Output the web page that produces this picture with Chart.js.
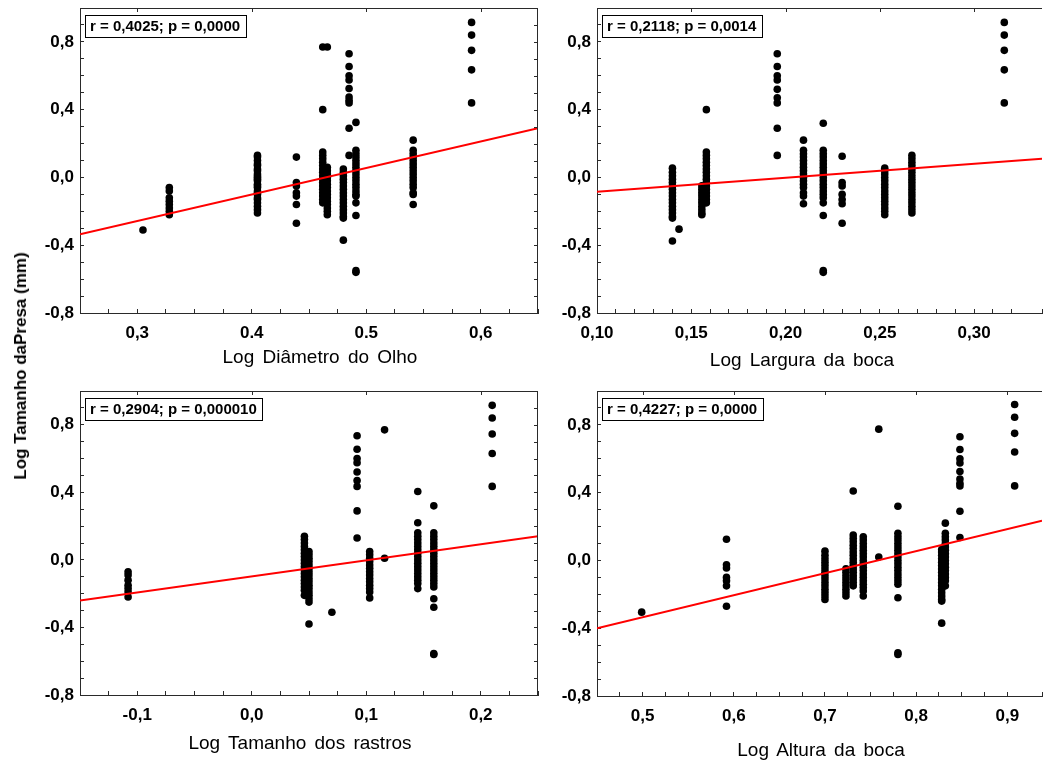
<!DOCTYPE html>
<html>
<head>
<meta charset="utf-8">
<title>Log Tamanho da Presa</title>
<script src="https://cdn.jsdelivr.net/npm/chart.js@4.4.1/dist/chart.umd.min.js"></script>
<style>
  html, body { margin: 0; padding: 0; background: #fff; overflow: hidden; }
  #page { position: relative; width: 1046px; height: 764px; }
  canvas { position: absolute; }
  .xtitle {
    position: absolute; white-space: nowrap; color: #000;
    font: 19px 'Liberation Sans', Arial, sans-serif; word-spacing: 3px;
    transform: translate(-50%, -50%);
  }
  #ytitle {
    position: absolute; left: 21px; top: 366px; white-space: nowrap; color: #000;
    font: bold 17px 'Liberation Sans', Arial, sans-serif;
    transform: translate(-50%, -50%) rotate(-90deg);
  }
</style>
</head>
<body>
<div id="page">
  <canvas id="eye" width="512" height="380" style="left:30px;top:0"></canvas>
  <canvas id="mouthW" width="499" height="380" style="left:547px;top:0"></canvas>
  <canvas id="raker" width="512" height="384" style="left:30px;top:380px"></canvas>
  <canvas id="mouthH" width="499" height="384" style="left:547px;top:380px"></canvas>

  <div id="ytitle">Log Tamanho daPresa (mm)</div>
  <div class="xtitle" style="left:320px;top:357px">Log Diâmetro do Olho</div>
  <div class="xtitle" style="left:802px;top:360px">Log Largura da boca</div>
  <div class="xtitle" style="left:300px;top:743px">Log Tamanho dos rastros</div>
  <div class="xtitle" style="left:821px;top:750px">Log Altura da boca</div>
</div>

<script>
// shared y axis (log prey size)
const yTickVals = [-0.8, -0.4, 0, 0.4, 0.8];
const yTickText = ['-0,8', '-0,4', '0,0', '0,4', '0,8'];

// --- eye diameter ---
const eyeX = [0.305, 0.328, 0.405, 0.439, 0.462, 0.466, 0.480, 0.485, 0.491, 0.541, 0.592];
const eyeY = [
  [-0.31],
  [-0.06, -0.08, -0.12, -0.14, -0.16, -0.18, -0.20, -0.22],
  [0.13, 0.12, 0.10, 0.08, 0.07, 0.05, 0.04, 0.02, 0.01, 0.00, -0.01, -0.02, -0.04, -0.05, -0.06, -0.08, -0.09, -0.10, -0.12, -0.13, -0.15, -0.17, -0.19, -0.21],
  [0.12, -0.03, -0.05, -0.09, -0.11, -0.16, -0.27],
  [0.77, 0.40, 0.15, 0.13, 0.11, 0.09, 0.07, 0.05, 0.03, 0.01, -0.01, -0.03, -0.05, -0.07, -0.09, -0.11, -0.13, -0.15],
  [0.77, 0.06, 0.04, 0.02, 0.00, -0.02, -0.04, -0.06, -0.08, -0.10, -0.12, -0.14, -0.16, -0.18, -0.20, -0.22],
  [0.05, 0.03, 0.01, -0.01, -0.03, -0.05, -0.07, -0.09, -0.11, -0.13, -0.15, -0.17, -0.19, -0.21, -0.23, -0.24, -0.37],
  [0.73, 0.655, 0.60, 0.575, 0.525, 0.475, 0.455, 0.44, 0.29, 0.13],
  [0.325, 0.16, 0.14, 0.12, 0.10, 0.08, 0.06, 0.04, 0.02, 0.00, -0.02, -0.04, -0.06, -0.08, -0.10, -0.11, -0.15, -0.225, -0.55, -0.56],
  [0.22, 0.16, 0.14, 0.12, 0.10, 0.08, 0.06, 0.04, 0.02, 0.00, -0.02, -0.04, -0.06, -0.09, -0.10, -0.16],
  [0.915, 0.84, 0.75, 0.635, 0.44]
];
const eyeFitX = [0.25, 0.65];
const eyeFitY = [-0.335, 0.29];
const eyeTickVals = [0.3, 0.4, 0.5, 0.6];
const eyeTickText = ['0,3', '0.4', '0.5', '0,6'];

// --- mouth width ---
const mouthWX = [0.140, 0.1435, 0.1556, 0.158, 0.1956, 0.2095, 0.220, 0.230, 0.2526, 0.267, 0.316];
const mouthWY = [
  [0.055, 0.03, 0.01, -0.01, -0.03, -0.05, -0.07, -0.09, -0.11, -0.13, -0.15, -0.17, -0.19, -0.21, -0.23, -0.24, -0.375],
  [-0.305],
  [-0.05, -0.07, -0.09, -0.11, -0.13, -0.15, -0.17, -0.19, -0.21, -0.22],
  [0.40, 0.15, 0.13, 0.11, 0.09, 0.07, 0.05, 0.03, 0.01, -0.01, -0.03, -0.05, -0.07, -0.09, -0.11, -0.13, -0.15],
  [0.73, 0.655, 0.60, 0.575, 0.52, 0.47, 0.44, 0.29, 0.13],
  [0.22, 0.16, 0.14, 0.12, 0.10, 0.08, 0.06, 0.04, 0.02, 0.00, -0.02, -0.04, -0.06, -0.09, -0.11, -0.155],
  [0.32, 0.16, 0.14, 0.12, 0.10, 0.08, 0.06, 0.04, 0.02, 0.00, -0.02, -0.04, -0.06, -0.08, -0.10, -0.12, -0.15, -0.225, -0.55, -0.56],
  [0.125, -0.03, -0.05, -0.10, -0.13, -0.155, -0.27],
  [0.055, 0.04, 0.02, 0.00, -0.02, -0.04, -0.06, -0.08, -0.10, -0.12, -0.14, -0.16, -0.18, -0.20, -0.22],
  [0.13, 0.11, 0.09, 0.07, 0.05, 0.03, 0.01, -0.01, -0.03, -0.05, -0.07, -0.09, -0.11, -0.13, -0.15, -0.17, -0.19, -0.21],
  [0.915, 0.84, 0.75, 0.635, 0.44]
];
const mouthWFitX = [0.10, 0.336];
const mouthWFitY = [-0.085, 0.11];
const mouthWTickVals = [0.10, 0.15, 0.20, 0.25, 0.30];
const mouthWTickText = ['0,10', '0,15', '0,20', '0,25', '0,30'];

// --- gill rakers ---
const rakerX = [-0.108, 0.046, 0.050, 0.070, 0.092, 0.103, 0.116, 0.145, 0.159, 0.210];
const rakerY = [
  [-0.07, -0.09, -0.12, -0.15, -0.17, -0.19, -0.22],
  [0.14, 0.12, 0.10, 0.08, 0.06, 0.04, 0.02, 0.00, -0.02, -0.04, -0.06, -0.08, -0.10, -0.12, -0.14, -0.16, -0.18, -0.21],
  [0.05, 0.03, 0.01, -0.01, -0.03, -0.05, -0.07, -0.09, -0.11, -0.13, -0.15, -0.17, -0.19, -0.21, -0.23, -0.25, -0.38],
  [-0.31],
  [0.735, 0.655, 0.60, 0.575, 0.52, 0.47, 0.435, 0.29, 0.13],
  [0.05, 0.03, 0.01, -0.01, -0.03, -0.05, -0.07, -0.09, -0.11, -0.13, -0.15, -0.17, -0.19, -0.225],
  [0.77, 0.01],
  [0.405, 0.22, 0.16, 0.14, 0.12, 0.10, 0.08, 0.06, 0.04, 0.02, 0.00, -0.02, -0.04, -0.06, -0.08, -0.10, -0.12, -0.14, -0.17],
  [0.32, 0.16, 0.14, 0.12, 0.10, 0.08, 0.06, 0.04, 0.02, 0.00, -0.02, -0.04, -0.06, -0.08, -0.10, -0.12, -0.14, -0.16, -0.23, -0.28, -0.555, -0.56],
  [0.915, 0.84, 0.745, 0.63, 0.435]
];
const rakerFitX = [-0.15, 0.25];
const rakerFitY = [-0.24, 0.14];
const rakerTickVals = [-0.1, 0, 0.1, 0.2];
const rakerTickText = ['-0,1', '0,0', '0,1', '0,2'];

// --- mouth height ---
const mouthHX = [0.499, 0.592, 0.700, 0.723, 0.731, 0.742, 0.759, 0.780, 0.828, 0.832, 0.848, 0.908];
const mouthHY = [
  [-0.305],
  [0.125, -0.025, -0.045, -0.10, -0.12, -0.15, -0.27],
  [0.055, 0.03, 0.01, -0.01, -0.03, -0.05, -0.07, -0.09, -0.11, -0.13, -0.15, -0.17, -0.19, -0.21, -0.23],
  [-0.05, -0.07, -0.09, -0.11, -0.13, -0.15, -0.17, -0.19, -0.21],
  [0.41, 0.15, 0.13, 0.11, 0.09, 0.07, 0.05, 0.03, 0.01, -0.01, -0.03, -0.05, -0.07, -0.09, -0.11, -0.13, -0.15],
  [0.14, 0.12, 0.10, 0.08, 0.06, 0.04, 0.02, 0.00, -0.02, -0.04, -0.06, -0.08, -0.10, -0.12, -0.14, -0.16, -0.18, -0.21],
  [0.775, 0.02],
  [0.32, 0.16, 0.14, 0.12, 0.10, 0.08, 0.06, 0.04, 0.02, 0.00, -0.02, -0.04, -0.06, -0.08, -0.10, -0.12, -0.14, -0.22, -0.545, -0.555],
  [0.065, 0.05, 0.03, 0.01, -0.01, -0.03, -0.05, -0.07, -0.09, -0.11, -0.13, -0.15, -0.17, -0.19, -0.21, -0.23, -0.24, -0.37],
  [0.22, 0.16, 0.14, 0.12, 0.10, 0.08, 0.06, 0.04, 0.02, 0.00, -0.02, -0.04, -0.06, -0.08, -0.10, -0.12, -0.15],
  [0.73, 0.655, 0.60, 0.575, 0.525, 0.48, 0.455, 0.44, 0.29, 0.135],
  [0.92, 0.845, 0.75, 0.64, 0.44]
];
const mouthHFitX = [0.45, 0.938];
const mouthHFitY = [-0.40, 0.235];
const mouthHTickVals = [0.5, 0.6, 0.7, 0.8, 0.9];
const mouthHTickText = ['0,5', '0,6', '0,7', '0,8', '0,9'];

const FONT = "'Liberation Sans', Arial, sans-serif";
const AXIS = '#2a2a2a';

function labelFor(vals, text) {
  return value => {
    const i = vals.findIndex(v => Math.abs(v - value) < 1e-6);
    return i < 0 ? '' : text[i];
  };
}

// closes the box on top/right and adds the small inner ticks there
const framePlugin = {
  id: 'frame',
  afterDraw(chart, args, opts) {
    const { ctx, chartArea: a, scales: { x, y } } = chart;
    ctx.save();
    ctx.strokeStyle = AXIS;
    ctx.lineWidth = 1;
    ctx.beginPath();
    ctx.moveTo(a.left, a.top + 0.5);
    ctx.lineTo(a.right, a.top + 0.5);
    opts.topTicks.forEach(v => {
      const px = Math.round(x.getPixelForValue(v)) + 0.5;
      ctx.moveTo(px, a.top);
      ctx.lineTo(px, a.top + 4);
    });
    if (opts.right) {
      ctx.moveTo(a.right - 0.5, a.top);
      ctx.lineTo(a.right - 0.5, a.bottom);
      y.ticks.forEach(t => {
        const py = Math.round(y.getPixelForValue(t.value)) + 0.5;
        ctx.moveTo(a.right, py);
        ctx.lineTo(a.right - 4, py);
      });
    }
    ctx.stroke();
    ctx.restore();
  }
};

// boxed correlation label in the upper left corner
const statPlugin = {
  id: 'stat',
  afterDraw(chart, args, opts) {
    const { ctx, chartArea: a } = chart;
    ctx.save();
    ctx.font = 'bold 15px ' + FONT;
    const w = Math.ceil(ctx.measureText(opts.text).width) + 10;
    const x = a.left + 5, y = a.top + 7, h = 22;
    ctx.fillStyle = '#fff';
    ctx.fillRect(x, y, w, h);
    ctx.strokeStyle = '#000';
    ctx.lineWidth = 1;
    ctx.strokeRect(x + 0.5, y + 0.5, w, h);
    ctx.fillStyle = '#000';
    ctx.textBaseline = 'middle';
    ctx.fillText(opts.text, x + 5, y + h / 2 + 1);
    ctx.restore();
  }
};

function panel(id, p) {
  const pts = [];
  p.xs.forEach((x, i) => p.ys[i].forEach(y => pts.push({ x, y })));
  const fit = p.fitX.map((x, i) => ({ x, y: p.fitY[i] }));
  const tickFont = { family: FONT, size: 17, weight: 'bold' };

  return new Chart(document.getElementById(id), {
    type: 'scatter',
    data: {
      datasets: [
        { data: fit, showLine: true, borderColor: '#f00', borderWidth: 2, pointRadius: 0, order: 0 },
        { data: pts, pointRadius: 3.8, pointStyle: 'circle', backgroundColor: '#000', borderWidth: 0, order: 1 }
      ]
    },
    options: {
      responsive: false,
      animation: false,
      events: [],
      layout: { padding: { top: p.top, right: p.right, left: 0, bottom: 0 } },
      plugins: {
        legend: { display: false },
        tooltip: { enabled: false },
        frame: { topTicks: p.tickVals, right: p.right > 0 },
        stat: { text: p.stat }
      },
      scales: {
        x: {
          type: 'linear',
          min: p.min,
          max: p.max,
          ticks: {
            stepSize: p.step, maxTicksLimit: 200, autoSkip: false, maxRotation: 0,
            padding: 14, color: '#000', font: tickFont,
            callback: labelFor(p.tickVals, p.tickText)
          },
          grid: { drawOnChartArea: false, drawTicks: true, tickLength: -4, color: AXIS, lineWidth: 1 },
          border: { color: AXIS, width: 1 },
          afterFit(s) { s.height = p.xh; s.paddingLeft = 0; s.paddingRight = 0; }
        },
        y: {
          type: 'linear',
          min: -0.8,
          max: 1.0,
          ticks: {
            stepSize: 0.1, maxTicksLimit: 200, autoSkip: false,
            padding: 10, color: '#000', font: tickFont,
            callback: labelFor(yTickVals, yTickText)
          },
          grid: { drawOnChartArea: false, drawTicks: true, tickLength: -4, color: AXIS, lineWidth: 1 },
          border: { color: AXIS, width: 1 },
          afterFit(s) { s.width = 50; s.paddingTop = 0; s.paddingBottom = 0; }
        }
      }
    },
    plugins: [framePlugin, statPlugin]
  });
}

panel('eye', {
  xs: eyeX, ys: eyeY, fitX: eyeFitX, fitY: eyeFitY,
  min: 0.25, max: 0.65, step: 0.025, tickVals: eyeTickVals, tickText: eyeTickText,
  top: 8, right: 2, xh: 67, stat: 'r = 0,4025; p = 0,0000'
});
panel('mouthW', {
  xs: mouthWX, ys: mouthWY, fitX: mouthWFitX, fitY: mouthWFitY,
  min: 0.10, max: 0.336, step: 0.01, tickVals: mouthWTickVals, tickText: mouthWTickText,
  top: 8, right: 0, xh: 67, stat: 'r = 0,2118; p = 0,0014'
});
panel('raker', {
  xs: rakerX, ys: rakerY, fitX: rakerFitX, fitY: rakerFitY,
  min: -0.15, max: 0.25, step: 0.025, tickVals: rakerTickVals, tickText: rakerTickText,
  top: 11, right: 2, xh: 69, stat: 'r = 0,2904; p = 0,000010'
});
panel('mouthH', {
  xs: mouthHX, ys: mouthHY, fitX: mouthHFitX, fitY: mouthHFitY,
  min: 0.45, max: 0.938, step: 0.025, tickVals: mouthHTickVals, tickText: mouthHTickText,
  top: 11, right: 0, xh: 68, stat: 'r = 0,4227; p = 0,0000'
});
</script>
</body>
</html>
